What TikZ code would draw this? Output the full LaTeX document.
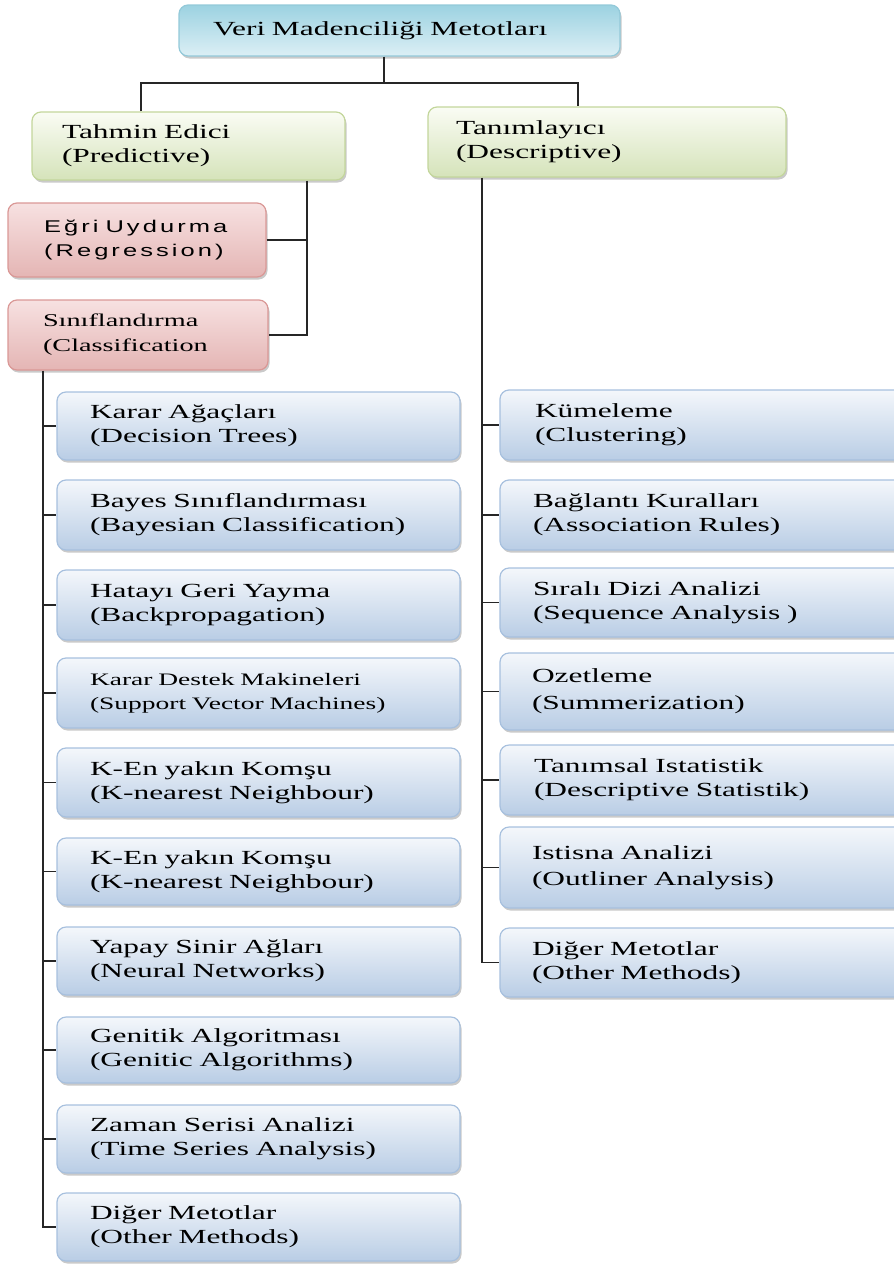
\documentclass[tikz,border=0pt]{standalone}
\usepackage{fontspec}
\setmainfont{Liberation Serif}[FakeStretch=1.57]
\newfontfamily\egrifont{Liberation Sans}[FakeStretch=1.5,LetterSpace=18]
\usetikzlibrary{shadows}
\definecolor{bluetop}{HTML}{F4F7FB}
\definecolor{bluebot}{HTML}{B9CDE5}
\definecolor{blueedge}{HTML}{A7C0DE}
\definecolor{greentop}{HTML}{FAFCF4}
\definecolor{greenbot}{HTML}{D5E3BA}
\definecolor{greenedge}{HTML}{C3D69B}
\definecolor{redtop}{HTML}{F7E1E1}
\definecolor{redbot}{HTML}{E4B5B4}
\definecolor{rededge}{HTML}{DA9896}
\definecolor{cyantop}{HTML}{9CD2E1}
\definecolor{cyanbot}{HTML}{DCEFF5}
\definecolor{cyanedge}{HTML}{93C9D9}
\tikzset{
  boxbase/.style={rounded corners=9pt, line width=1.2pt, inner xsep=0pt, inner ysep=0pt,
    align=left, drop shadow={shadow xshift=1.5pt, shadow yshift=-2.5pt, opacity=0.35, fill=black!60},
    font=\fontsize{20}{24}\selectfont},
  bluebox/.style={boxbase, draw=blueedge, top color=bluetop, bottom color=bluebot},
  greenbox/.style={boxbase, draw=greenedge, top color=greentop, bottom color=greenbot},
  redbox/.style={boxbase, draw=rededge, top color=redtop, bottom color=redbot},
  cyanbox/.style={boxbase, draw=cyanedge, top color=cyantop, bottom color=cyanbot},
  conn/.style={draw=black!85, line width=1.6pt}
}
\newcommand\mkbox[8]{%
  \pgfmathsetmacro\bxw{#5-#3}%
  \pgfmathsetmacro\bxh{#6-#4}%
  \pgfmathsetmacro\bxt{#5-#3-2*#7}%
  \pgfmathsetmacro\bxx{(#3+#5)/2}%
  \pgfmathsetmacro\bxy{(#4+#6)/2}%
  \node[#2, minimum width=\bxw pt, minimum height=\bxh pt, text width=\bxt pt] (#1) at (\bxx,\bxy) {#8};}
\begin{document}
\begin{tikzpicture}[x=1pt,y=-1pt]
\useasboundingbox (0,0) rectangle (894,1264);
% top level
\mkbox{top}{cyanbox}{179}{5}{620}{56}{34}{Veri Madenciliği Metotları}
\mkbox{tah}{greenbox}{32}{112}{345}{180}{30}{Tahmin Edici\\(Predictive)}
\mkbox{tan}{greenbox}{428}{107}{786}{177}{28}{Tanımlayıcı\\(Descriptive)}
\mkbox{egr}{redbox, font=\egrifont\fontsize{17}{24}\selectfont}{8}{203}{266}{277}{36}{Eğri\hspace{7pt}Uydurma\\(Regression)}
\mkbox{sin}{redbox, font=\fontsize{18}{25}\selectfont}{8}{300}{268}{370}{35}{Sınıflandırma\\(Classification}
% left column
\mkbox{l1}{bluebox}{57}{392}{460}{460}{33}{Karar Ağaçları\\(Decision Trees)}
\mkbox{l2}{bluebox}{57}{480}{460}{550}{33}{Bayes Sınıflandırması\\(Bayesian Classification)}
\mkbox{l3}{bluebox}{57}{570}{460}{640}{33}{Hatayı Geri Yayma\\(Backpropagation)}
\mkbox{l4}{bluebox, font=\fontsize{17.5}{24}\selectfont}{57}{658}{460}{728}{33}{Karar Destek Makineleri\\(Support Vector Machines)}
\mkbox{l5}{bluebox}{57}{748}{460}{817}{33}{K-En yakın Komşu\\(K-nearest Neighbour)}
\mkbox{l6}{bluebox}{57}{838}{460}{905}{33}{K-En yakın Komşu\\(K-nearest Neighbour)}
\mkbox{l7}{bluebox}{57}{927}{460}{995}{33}{Yapay Sinir Ağları\\(Neural Networks)}
\mkbox{l8}{bluebox}{57}{1017}{460}{1083}{33}{Genitik Algoritması\\(Genitic Algorithms)}
\mkbox{l9}{bluebox}{57}{1105}{460}{1173}{33}{Zaman Serisi Analizi\\(Time Series Analysis)}
\mkbox{l10}{bluebox}{57}{1193}{460}{1261}{33}{Diğer Metotlar\\(Other Methods)}
% right column
\mkbox{r1}{bluebox}{500}{390}{905}{460}{35}{Kümeleme\\(Clustering)}
\mkbox{r2}{bluebox}{500}{480}{905}{550}{33}{Bağlantı Kuralları\\(Association Rules)}
\mkbox{r3}{bluebox}{500}{568}{905}{637}{33}{Sıralı Dizi Analizi\\(Sequence Analysis )}
\mkbox{r4}{bluebox, font=\fontsize{20}{27}\selectfont}{500}{653}{905}{730}{32}{Ozetleme\\(Summerization)}
\mkbox{r5}{bluebox}{500}{745}{905}{815}{34}{Tanımsal Istatistik\\(Descriptive Statistik)}
\mkbox{r6}{bluebox, font=\fontsize{20}{26}\selectfont}{500}{827}{905}{908}{32}{Istisna Analizi\\(Outliner Analysis)}
\mkbox{r7}{bluebox}{500}{928}{905}{997}{32}{Diğer Metotlar\\(Other Methods)}
% connectors
\coordinate (jt) at (384,83);
\coordinate (ja) at (141,83);
\coordinate (jb) at (578,83);
\draw[conn] (top.south -| jt) -- (jt);
\draw[conn] (tah.north -| ja) -- (ja) -- (jb) -- (tan.north -| jb);
\coordinate (pv) at (307,0);
\draw[conn] (tah.south -| pv) -- (sin.east -| pv) -- (sin.east);
\draw[conn] (egr.east) -- (egr.east -| pv);
\coordinate (lv) at (43,0);
\draw[conn] (sin.south -| lv) -- (l10.west -| lv) -- (l10.west);
\foreach \n in {l1,l2,l3,l4,l5,l6,l7,l8,l9} \draw[conn] (\n.west -| lv) -- (\n.west);
\coordinate (rv) at (482,0);
\draw[conn] (tan.south -| rv) -- (r7.west -| rv) -- (r7.west);
\foreach \n in {r1,r2,r3,r4,r5,r6} \draw[conn] (\n.west -| rv) -- (\n.west);
\end{tikzpicture}
\end{document}
